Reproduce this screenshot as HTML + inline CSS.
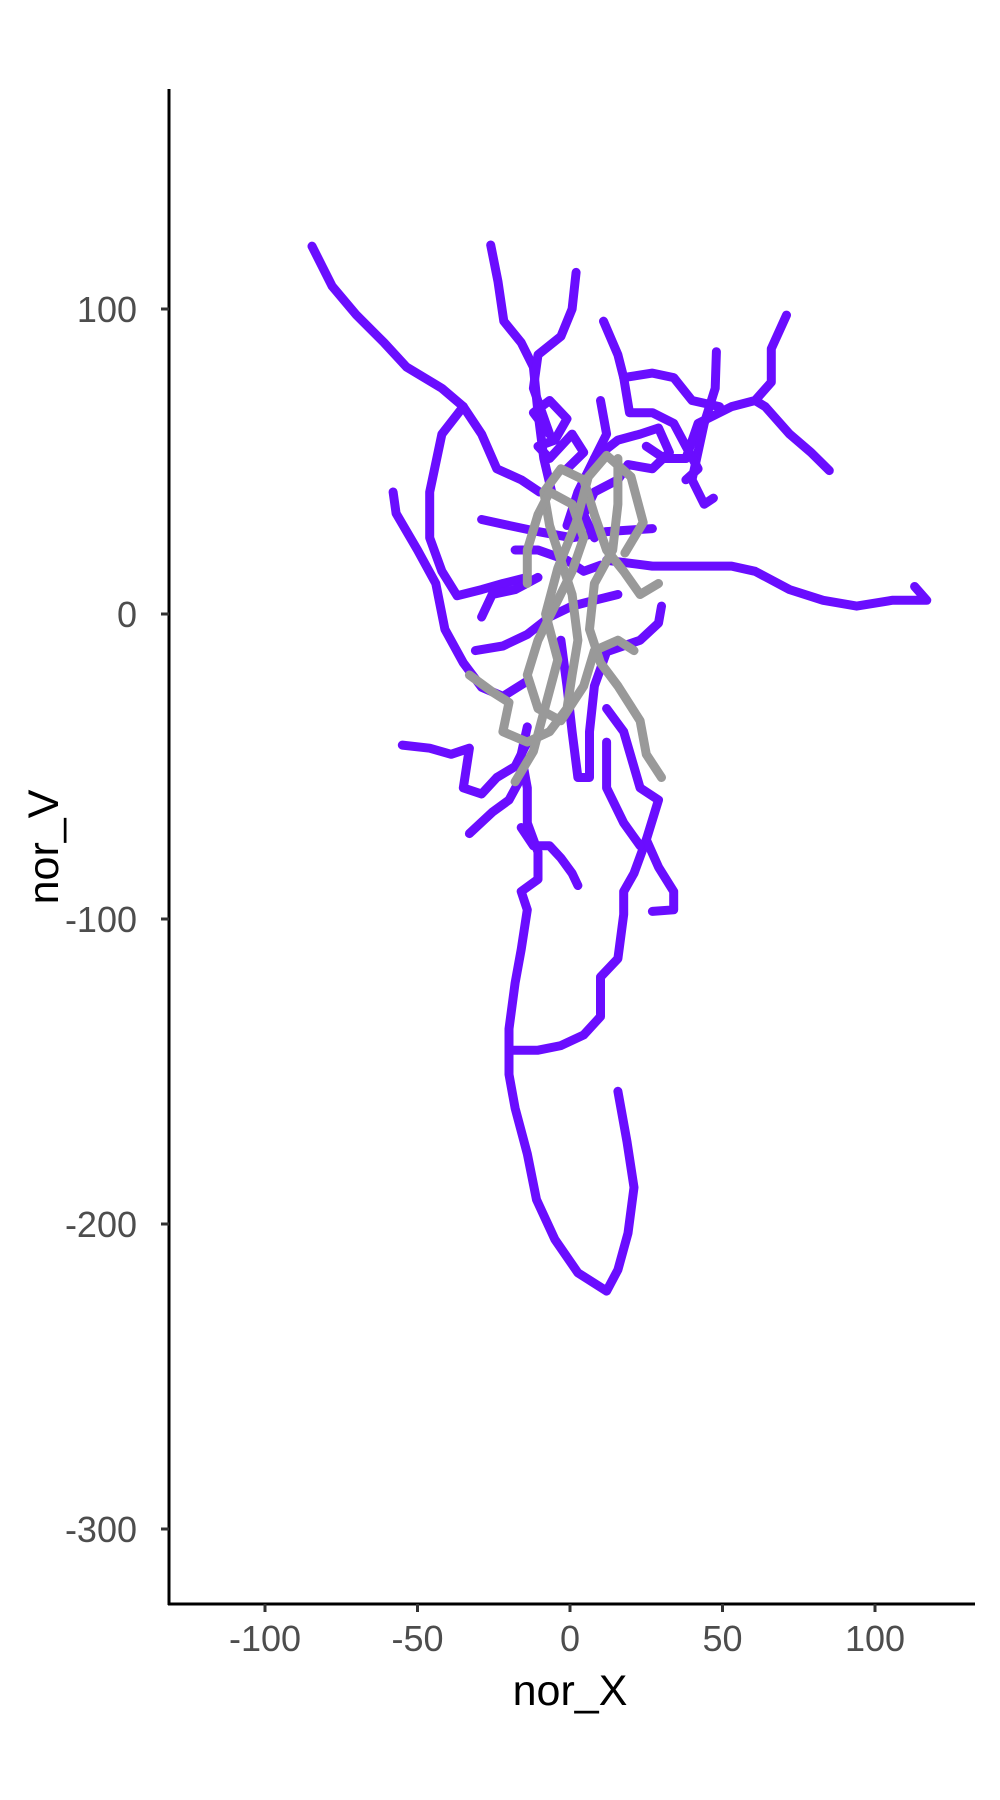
<!DOCTYPE html>
<html><head><meta charset="utf-8"><style>html,body{margin:0;padding:0;background:#fff}svg{display:block}</style></head>
<body>
<svg id="chart" width="1000" height="1800" viewBox="0 0 1000 1800" xmlns="http://www.w3.org/2000/svg" font-family="Liberation Sans, Arial, sans-serif">
<rect width="1000" height="1800" fill="#fff"/>
<g id="purple"></g>
<g id="grey"></g>
<g id="axes"></g>
</svg>
<script>
const xTicks = [-100, -50, 0, 50, 100];
const yTicks = [100, 0, -100, -200, -300];
const purpleTrack1 = [[-84.6,120.6],[-78,107.5],[-70,98],[-61,89],[-53.6,81],[-42,74],[-35,68],[-29,59],[-24,47.6],[-16,44],[-10,40]];
const purpleTrack2 = [[-35,68],[-42,59],[-46,40],[-46,25],[-42,14],[-37,6],[-29,8],[-22,10],[-14,12]];
const purpleTrack3 = [[-58,40],[-57,33],[-50,21],[-44,10],[-41,-5],[-35,-16],[-29,-24],[-22,-27],[-14,-22]];
const purpleTrack4 = [[-26,121],[-23.6,109],[-21.7,96],[-16,89],[-12,81],[-10.5,66],[-8.6,51],[-6,40]];
const purpleTrack5 = [[2,112],[0.7,100],[-3,91],[-10.5,85],[-12,74],[-6.7,59],[-12,66],[-6.7,70],[-1,64],[-5,57],[-10.5,55],[-6.7,51],[0.7,59],[4.5,53],[-1,47.6]];
const purpleTrack6 = [[71,98],[66,87],[66,76],[60.7,70],[53,68],[42,62.5],[38,51],[31,51],[25,55]];
const purpleTrack7 = [[60.7,70],[64,68],[72,59],[79,53],[85,47]];
const purpleTrack8 = [[48,86],[47.6,74],[44,62.5],[40,44],[44,36],[47,38]];
const purpleTrack9 = [[11,96],[15.7,85],[17.6,77.5],[27,79],[34,77.5],[40,70],[49,68]];
const purpleTrack10 = [[12,17.6],[27,15.7],[42,15.7],[53,15.7],[60.7,14],[72,8],[83,4.5],[94,2.6],[105.6,4.5],[117,4.5],[113,9]];
const purpleTrack11 = [[15.7,-156.5],[18.7,-173],[21,-188],[19,-203],[15.7,-215],[12,-222],[2.6,-216],[-5,-205],[-11,-192],[-14,-177],[-18,-162],[-20,-151],[-20,-136],[-18,-121],[-16,-110],[-14,-97],[-16,-91],[-10.5,-87],[-10.5,-78],[-14,-68.5],[-14,-57],[-16,-46],[-14,-37]];
const purpleTrack12 = [[-20,-143],[-10.5,-143],[-3,-141.5],[4.5,-138],[10,-132],[10,-119],[15.7,-113],[17.6,-98.5],[17.6,-91],[21,-85],[25,-74],[29,-61],[23,-57],[17.6,-38.6],[12,-31]];
const purpleTrack13 = [[25,-74],[29,-83],[34,-91],[34,-97],[27,-97.5]];
const purpleTrack14 = [[12,-42],[12,-57],[17.6,-68.5],[23,-76]];
const purpleTrack15 = [[-55,-43],[-46,-44],[-39,-46],[-33,-44],[-35,-57],[-29,-59],[-24,-53.6],[-18,-50],[-14,-42]];
const purpleTrack16 = [[-33,-72],[-25.5,-65],[-20,-61],[-16,-53.6]];
const purpleTrack17 = [[-16,-70],[-12,-76],[-6.7,-76],[-3,-80],[0.7,-85],[2.6,-89]];
const purpleTrack18 = [[-29,31],[-20,29],[-10.5,27],[0.7,25],[12,27],[27,28]];
const purpleTrack19 = [[-18,21],[-10.5,21],[-1,17.6],[4.5,14],[10,16]];
const purpleTrack20 = [[-31,-12],[-22,-10.5],[-14,-6.7],[-6.7,-1],[0.7,2.6],[8,4.5],[15.7,6.4]];
const purpleTrack21 = [[-29,-1],[-25.5,6.4],[-18,8],[-10.5,12]];
const purpleTrack22 = [[-3,-8.6],[-1,-23.6],[0.7,-38.6],[2.6,-53.6],[6.4,-53.6],[6.4,-38.6],[8,-23.6],[12,-12.4],[23,-8.6],[29,-3],[30,2.6]];
const purpleTrack23 = [[8,51],[15.7,57],[23,59],[29,61],[32.6,53],[27,47.6],[19,49],[15.7,44],[8,40],[4.5,32.6],[8,25]];
const purpleTrack24 = [[10,70],[12,59],[8,51],[2.6,40],[-1,29]];
const purpleTrack25 = [[17.6,77.5],[19.5,66],[27,66],[34,62.5],[38,55],[42,47.6],[38,44]];
const greyTrack1 = [[-33,-20],[-25.5,-25.5],[-20,-29],[-22,-38.6],[-14,-42],[-6.7,-38.6],[-1,-31],[0.7,-20],[2.6,-8.6],[0.7,6.4],[-3,17.6],[-6.7,29],[-8.6,40],[-3,47.6],[4.5,44],[8,32.6],[12,21],[17.6,14],[23,6.4],[29,10]];
const greyTrack2 = [[15.7,51],[15.7,36],[14,21],[8,10],[6.4,-5],[10,-16],[15.7,-23.6],[23,-35],[25,-46],[30,-53.6]];
const greyTrack3 = [[-14,10],[-14,21],[-10.5,32.6],[-6.7,40],[0.7,36],[4.5,25],[0.7,14],[-5,2.6],[-10.5,-8.6],[-14,-20],[-10.5,-31],[-3,-35],[4.5,-23.6],[8,-12],[15.7,-8.6],[21,-12]];
const greyTrack4 = [[-18,-55],[-12,-45],[-8,-30],[-4,-15],[-8,0],[-4,15],[2,30],[6,45],[12,52],[20,45],[24,30],[18,20]];

const purpleTracks = [purpleTrack1,purpleTrack2,purpleTrack3,purpleTrack4,purpleTrack5,purpleTrack6,purpleTrack7,purpleTrack8,purpleTrack9,purpleTrack10,purpleTrack11,purpleTrack12,purpleTrack13,purpleTrack14,purpleTrack15,purpleTrack16,purpleTrack17,purpleTrack18,purpleTrack19,purpleTrack20,purpleTrack21,purpleTrack22,purpleTrack23,purpleTrack24,purpleTrack25];
const greyTracks = [greyTrack1,greyTrack2,greyTrack3,greyTrack4];

const NS = 'http://www.w3.org/2000/svg';
function xScale(v){ return 570 + v * 3.05; }
function yScale(v){ return 614 - v * 3.05; }

function drawTracks(gid, tracks, color, name){
  const g = document.getElementById(gid);
  tracks.forEach(function(t){
    const p = document.createElementNS(NS,'polyline');
    p.setAttribute('points', t.map(function(d){return xScale(d[0]).toFixed(1)+','+yScale(d[1]).toFixed(1);}).join(' '));
    p.setAttribute('fill','none');
    p.setAttribute('stroke',color);
    p.setAttribute('stroke-width','9');
    p.setAttribute('stroke-linecap','round');
    p.setAttribute('stroke-linejoin','round');
    
    
    g.appendChild(p);
  });
}
drawTracks('purple', purpleTracks, '#6a0dff', 'purple-track');
drawTracks('grey', greyTracks, '#999999', 'grey-track');

const ax = document.getElementById('axes');
function el(tag, attrs){ const e = document.createElementNS(NS, tag); for (const k in attrs) e.setAttribute(k, attrs[k]); ax.appendChild(e); return e; }
const yAxis = el('line',{x1:169,y1:89,x2:169,y2:1605,stroke:'#000','stroke-width':3});


const xAxis = el('line',{x1:168,y1:1604,x2:975,y2:1604,stroke:'#000','stroke-width':3});


xTicks.forEach(function(v){
  const x = xScale(v);
  const tk = el('line',{x1:x,y1:1604,x2:x,y2:1612,stroke:'#333','stroke-width':3});
  
  
  const t = el('text',{x:x,y:1651,'text-anchor':'middle','font-size':36,fill:'#4d4d4d'});
  t.textContent = v;
  
  
});
yTicks.forEach(function(v){
  const y = yScale(v);
  const tk = el('line',{x1:161,y1:y,x2:169,y2:y,stroke:'#333','stroke-width':3});
  
  
  const t = el('text',{x:137,y:y+13,'text-anchor':'end','font-size':36,fill:'#4d4d4d'});
  t.textContent = v;
  
  
});
const xt = el('text',{x:570,y:1705,'text-anchor':'middle','font-size':43,fill:'#000'});
xt.textContent = 'nor_X';


const yt = el('text',{x:0,y:0,'text-anchor':'middle','font-size':43,fill:'#000',transform:'translate(58,847) rotate(-90)'});
yt.textContent = 'nor_V';


</script>
</body></html>
